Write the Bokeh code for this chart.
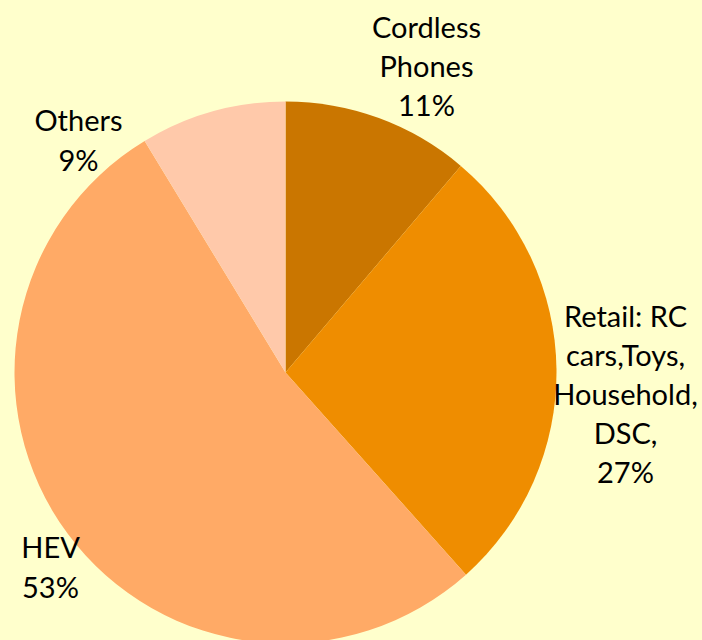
import math
from bokeh.plotting import figure
from bokeh.models import Range1d, ColumnDataSource
from bokeh.core.properties import value
from bokeh.embed import file_html
from bokeh.resources import INLINE

# ---- data ----
categories = ["Cordless Phones", "Retail: RC cars,Toys, Household, DSC", "HEV", "Others"]
shares = [11.2, 27.2, 52.9, 8.7]
label_texts = ["Cordless\nPhones\n11%", "Retail: RC\ncars,Toys,\nHousehold,\nDSC,\n27%", "HEV\n53%", "Others\n9%"]
colors = ["#CA7600", "#EF8D00", "#FFAA66", "#FFC9AA"]

# ---- layout ----
BG = "#FFFFCC"
R = 271
label_x = [141, 340, -235, -207]
label_y = [307, -21, -194, 233]

total = sum(shares)
starts, ends = [], []
cum = 0.0
for s in shares:
    starts.append(math.pi / 2 - 2 * math.pi * cum / total)
    cum += s
    ends.append(math.pi / 2 - 2 * math.pi * cum / total)

src = ColumnDataSource(dict(cat=categories, start=starts, end=ends, color=colors,
                            x=[0] * len(shares), y=[0] * len(shares)))

p = figure(width=702, height=640, output_backend="svg", toolbar_location=None,
           x_range=Range1d(-285, 417), y_range=Range1d(-268, 372),
           min_border=0, outline_line_color=None,
           background_fill_color=BG, border_fill_color=BG)
p.axis.visible = False
p.grid.visible = False

p.wedge(x="x", y="y", radius=R, start_angle="start", end_angle="end",
        direction="clock", fill_color="color", line_color=None, source=src)

lsrc = ColumnDataSource(dict(x=label_x, y=label_y, t=label_texts))
p.text(x="x", y="y", text="t", source=lsrc, text_align="center",
       text_baseline="middle", text_font=value("Lato"), text_font_size="29px",
       text_color="#000000", text_line_height=1.12)

html = file_html(p, INLINE)
style = "<style>html,body{background:%s;margin:0;padding:0;overflow:hidden}</style>" % BG
html = html.replace("</head>", style + "</head>", 1)
open("out.html", "w").write(html)
